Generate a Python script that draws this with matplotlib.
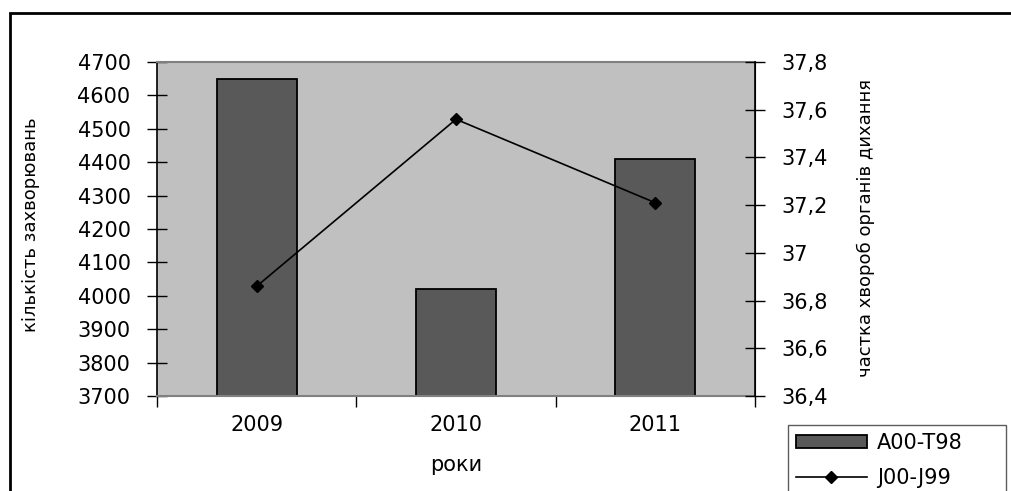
import matplotlib
matplotlib.use("Agg")
import matplotlib.pyplot as plt
from matplotlib.patches import Rectangle
from matplotlib.ticker import FixedLocator, FuncFormatter

years = ["2009", "2010", "2011"]
cases = [4650, 4020, 4410]          # A00-T98, left axis
resp_share = [36.86, 37.56, 37.21]  # J00-J99, right axis

left_ticks = list(range(3700, 4701, 100))
right_ticks = [36.4, 36.6, 36.8, 37.0, 37.2, 37.4, 37.6, 37.8]

plt.rcParams['font.family'] = ['DejaVu Sans']

fig = plt.figure(figsize=(10.11, 4.91), dpi=100)
ax = fig.add_axes([0.1553, 0.1935, 0.5915, 0.6802])
ax.set_facecolor('#c0c0c0')

x = range(len(years))
bars = ax.bar(x, cases, width=0.4, color='#595959', edgecolor='black',
              linewidth=1.3, label='A00-T98', zorder=2)
ax.set_xlim(-0.5, 2.5)
ax.set_ylim(3700, 4700)
ax.set_yticks(left_ticks)
ax.tick_params(axis='y', direction='inout', length=14, width=1,
               labelsize=15, pad=12)

# category labels in the middle, tick marks on the boundaries
ax.set_xticks(list(x))
ax.set_xticklabels(years, fontsize=15)
ax.tick_params(axis='x', which='major', length=0, pad=14)
ax.xaxis.set_minor_locator(FixedLocator([-0.5, 0.5, 1.5, 2.5]))
ax.tick_params(axis='x', which='minor', direction='out', length=8, width=1)
ax.set_xlabel('роки', fontsize=15, labelpad=14)

ax.spines['top'].set_color('#808080')
ax.spines['bottom'].set_color('#808080')
ax.spines['top'].set_linewidth(1.5)
ax.spines['bottom'].set_linewidth(1.5)
ax.spines['left'].set_linewidth(1.2)

ax2 = ax.twinx()
line, = ax2.plot(x, resp_share, color='black', linewidth=1.2, marker='D',
                 markersize=6, label='J00-J99', zorder=3)
ax2.set_ylim(36.4, 37.8)
ax2.set_yticks(right_ticks)
ax2.yaxis.set_major_formatter(FuncFormatter(
    lambda v, p: ('%g' % round(v, 1)).replace('.', ',')))
ax2.tick_params(axis='y', direction='inout', length=14, width=1,
                labelsize=15, pad=12)
ax2.spines['right'].set_linewidth(1.2)
for s in ('top', 'bottom', 'left'):
    ax2.spines[s].set_visible(False)

fig.text(0.031, 0.542, 'кількість захворювань', rotation=90, fontsize=13,
         ha='center', va='center')
fig.text(0.856, 0.536, 'частка хвороб органів дихання', rotation=90,
         fontsize=13, ha='center', va='center')

leg = fig.legend([bars, line], ['A00-T98', 'J00-J99'],
                 loc='upper left', bbox_to_anchor=(0.779, 0.135, 0.216, 0),
                 mode='expand', frameon=True, fancybox=False, fontsize=15,
                 handlelength=3.4, handleheight=0.6, borderpad=0.4,
                 labelspacing=0.7, handletextpad=0.5, borderaxespad=0)
leg.get_frame().set_edgecolor('#333333')
leg.get_frame().set_linewidth(1.0)

# outer chart border running off the right and bottom edges
fig.patches.append(Rectangle((10 / 1011, -0.2), 1.2, 0.2 + (491 - 13) / 491,
                             transform=fig.transFigure, fill=False,
                             edgecolor='black', linewidth=2, zorder=0))

fig.savefig('out.png', dpi=100)
